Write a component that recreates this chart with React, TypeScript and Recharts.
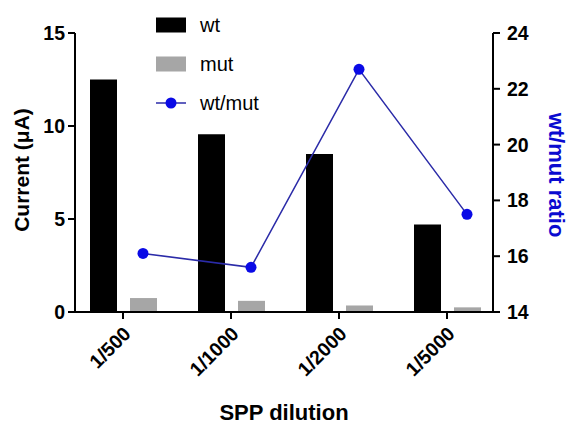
import React from 'react';
import {
  ComposedChart,
  Bar,
  Line,
  XAxis,
  YAxis,
  Label,
} from 'recharts';

const dilutions = ['1/500', '1/1000', '1/2000', '1/5000'];
const wtCurrent = [12.5, 9.55, 8.5, 4.7];
const mutCurrent = [0.75, 0.6, 0.35, 0.25];
const ratio = [16.1, 15.6, 22.7, 17.5];

const leftTicks = [0, 5, 10, 15];
const rightTicks = [14, 16, 18, 20, 22, 24];

const data = dilutions.map((d, i) => ({
  name: d,
  wt: wtCurrent[i],
  mut: mutCurrent[i],
  ratio: ratio[i],
}));

const FONT = 'Arial, "Liberation Sans", Helvetica, sans-serif';
const LINE_BLUE = '#2b2ba8';
const DOT_BLUE = '#0a0ae6';
const MUT_GREY = '#a6a6a6';

const legendRows = [
  { label: 'wt', kind: 'bar', color: '#000' },
  { label: 'mut', kind: 'bar', color: MUT_GREY },
  { label: 'wt/mut', kind: 'line', color: LINE_BLUE },
];

const XTick = ({ x, y, payload }: any) => (
  <g transform={`translate(${x + 9},${y + 14}) rotate(-45)`}>
    <text
      x={0}
      y={0}
      textAnchor="end"
      fontFamily={FONT}
      fontWeight="bold"
      fontSize={19.5}
      fill="#000"
    >
      {payload.value}
    </text>
  </g>
);

// legend drawn as a plain overlay so it doesn't eat into the plot area
const ChartLegend = () => (
  <div
    style={{
      position: 'absolute',
      left: 156,
      top: 5,
      fontFamily: FONT,
      fontSize: 20,
      lineHeight: '20px',
    }}
  >
    {legendRows.map((r) => (
      <div
        key={r.label}
        style={{ display: 'flex', alignItems: 'center', height: 39, whiteSpace: 'nowrap' }}
      >
        <svg width={30} height={16} style={{ marginRight: 14, flex: 'none' }}>
          {r.kind === 'bar' ? (
            <rect x={0} y={0.5} width={30} height={15} fill={r.color} />
          ) : (
            <g>
              <line x1={0} y1={8} x2={30} y2={8} stroke={r.color} strokeWidth={1.5} />
              <circle cx={15} cy={8} r={5.5} fill={DOT_BLUE} />
            </g>
          )}
        </svg>
        <span>{r.label}</span>
      </div>
    ))}
  </div>
);

export default function App() {
  return (
    <div style={{ position: 'absolute', left: 0, top: 0, width: 570, height: 424, background: '#fff' }}>
      <ComposedChart
        width={570}
        height={424}
        data={data}
        margin={{ top: 33, right: 17, bottom: 82, left: 15 }}
        barSize={27}
        barGap={13}
      >
        <XAxis
          xAxisId="bars"
          dataKey="name"
          padding={{ left: -6, right: -8 }}
          height={30}
          axisLine={{ stroke: '#000', strokeWidth: 2 }}
          tickLine={{ stroke: '#000', strokeWidth: 2 }}
          tickSize={7}
          tick={<XTick />}
          interval={0}
        >
          <Label
            content={() => (
              <text
                x={284}
                y={420}
                textAnchor="middle"
                fontFamily={FONT}
                fontWeight="bold"
                fontSize={22}
                fill="#000"
              >
                SPP dilution
              </text>
            )}
          />
        </XAxis>
        <XAxis
          xAxisId="line"
          dataKey="name"
          hide
          padding={{ left: 14, right: -28 }}
        />
        <YAxis
          yAxisId="left"
          width={60}
          domain={[0, 15]}
          ticks={leftTicks}
          allowDataOverflow
          axisLine={{ stroke: '#000', strokeWidth: 2 }}
          tickLine={{ stroke: '#000', strokeWidth: 2 }}
          tickSize={7}
          tickMargin={3}
          tick={{ fill: '#000', fontFamily: FONT, fontWeight: 'bold', fontSize: 19.5 }}
        >
          <Label
            content={() => (
              <text
                x={0}
                y={0}
                transform="translate(29,170) rotate(-90)"
                textAnchor="middle"
                fontFamily={FONT}
                fontWeight="bold"
                fontSize={21}
                fill="#000"
              >
                Current (μA)
              </text>
            )}
          />
        </YAxis>
        <YAxis
          yAxisId="right"
          orientation="right"
          width={60}
          domain={[14, 24]}
          ticks={rightTicks}
          allowDataOverflow
          axisLine={{ stroke: '#000', strokeWidth: 2 }}
          tickLine={{ stroke: '#000', strokeWidth: 2 }}
          tickSize={7}
          tickMargin={7}
          tick={{ fill: '#000', fontFamily: FONT, fontWeight: 'bold', fontSize: 19.5 }}
        >
          <Label
            content={() => (
              <text
                x={0}
                y={0}
                transform="translate(549,175) rotate(90)"
                textAnchor="middle"
                fontFamily={FONT}
                fontWeight="bold"
                fontSize={22}
                fill="#0a0ad0"
              >
                wt/mut ratio
              </text>
            )}
          />
        </YAxis>
        <Bar
          xAxisId="bars"
          yAxisId="left"
          dataKey="wt"
          name="wt"
          fill="#000"
          isAnimationActive={false}
        />
        <Bar
          xAxisId="bars"
          yAxisId="left"
          dataKey="mut"
          name="mut"
          fill={MUT_GREY}
          isAnimationActive={false}
        />
        <Line
          xAxisId="line"
          yAxisId="right"
          dataKey="ratio"
          name="wt/mut"
          stroke={LINE_BLUE}
          strokeWidth={1.5}
          dot={{ r: 5.5, fill: DOT_BLUE, stroke: DOT_BLUE, strokeWidth: 0 }}
          isAnimationActive={false}
        />
      </ComposedChart>
      <ChartLegend />
    </div>
  );
}
